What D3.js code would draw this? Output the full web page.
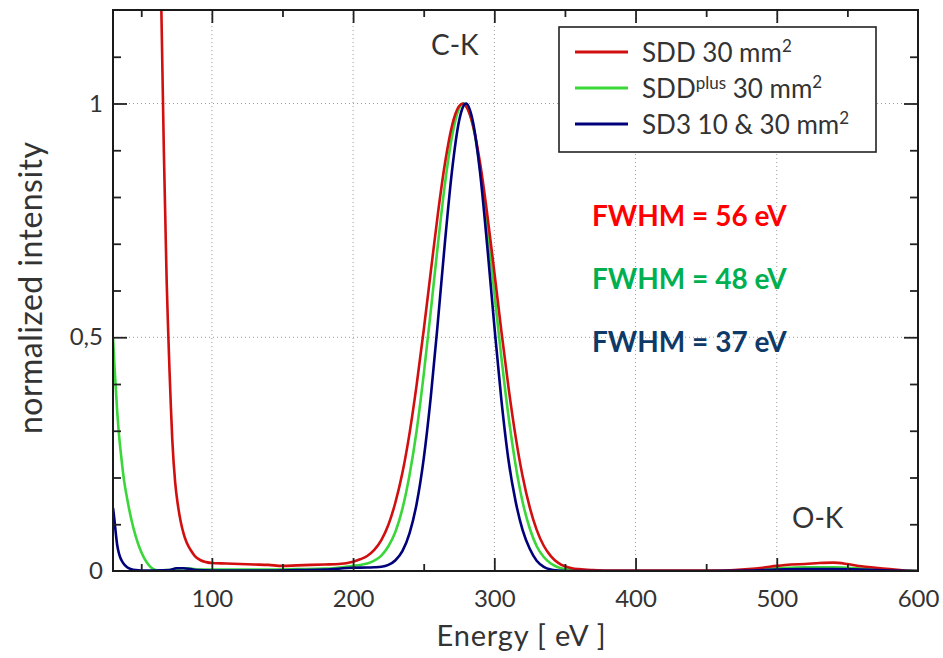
<!DOCTYPE html>
<html>
<head>
<meta charset="utf-8">
<script src="https://cdn.jsdelivr.net/npm/d3@7/dist/d3.min.js"></script>
<style>
  html, body { margin: 0; padding: 0; background: #fff; }
  svg { display: block; }
  text { font-family: Lato, "Open Sans", sans-serif; }
</style>
</head>
<body>
<svg id="chart" width="943" height="658"></svg>
<script>
// ---------------- data ----------------
const redE = [63,64,65,66,67,68,69,70,71,72,74,76,78,80,82,85,88,92,96,100,110,120,130,140,150,160,170,180,190,200,205,210,215,220,225,230,235,240,245,250,255,260,265,270,275,278,280,285,290,295,300,305,310,315,320,325,330,335,340,345,350,355,360,370,380,400,420,440,460,470,480,490,500,510,520,530,540,550,560,570,580,590,600];
const redI = [1.35,1.24,1.07,0.9,0.76,0.62,0.52,0.43,0.35,0.28,0.19,0.14,0.105,0.08,0.062,0.045,0.032,0.023,0.019,0.017,0.016,0.015,0.014,0.013,0.011,0.012,0.013,0.014,0.015,0.02,0.025,0.032,0.045,0.066,0.099,0.147,0.211,0.295,0.398,0.515,0.64,0.763,0.871,0.952,0.994,1.0,0.994,0.952,0.871,0.763,0.64,0.513,0.394,0.289,0.203,0.137,0.088,0.054,0.032,0.018,0.01,0.006,0.004,0.002,0.001,0.001,0.001,0.001,0.001,0.002,0.004,0.007,0.011,0.014,0.015,0.017,0.018,0.015,0.01,0.007,0.004,0.001,0];

const greenE = [30,31,32,33,34,36,38,40,43,46,49,52,55,58,62,70,75,80,85,90,100,120,140,160,180,200,205,210,215,220,225,230,235,240,245,250,255,260,265,270,275,278,280,285,290,295,300,305,310,315,320,325,330,335,340,345,350,355,360,380,400,450,480,490,500,510,520,530,540,550,560,570,580,590,600];
const greenI = [0.5,0.44,0.39,0.34,0.3,0.24,0.19,0.155,0.11,0.075,0.048,0.028,0.014,0.005,0.001,0.002,0.005,0.006,0.005,0.003,0.003,0.003,0.003,0.004,0.005,0.011,0.013,0.016,0.022,0.033,0.053,0.084,0.134,0.206,0.3,0.42,0.556,0.697,0.827,0.929,0.989,1.0,0.996,0.951,0.859,0.735,0.595,0.457,0.332,0.228,0.148,0.092,0.053,0.03,0.016,0.008,0.004,0.002,0.001,0,0,0,0.001,0.003,0.006,0.007,0.008,0.008,0.008,0.007,0.005,0.003,0.002,0.001,0];

const blueE = [30,31,32,33,34,35,37,40,43,46,50,60,70,75,80,85,90,100,120,140,160,180,200,210,215,220,225,230,235,240,245,250,255,260,265,270,275,278,280,285,290,295,300,305,310,315,320,325,330,335,340,345,350,400,450,480,500,520,540,560,580,600];
const blueI = [0.135,0.11,0.08,0.055,0.04,0.03,0.018,0.008,0.004,0.002,0.001,0.001,0.002,0.006,0.006,0.004,0.002,0.001,0.001,0.001,0.002,0.003,0.007,0.0074,0.008,0.009,0.013,0.023,0.043,0.081,0.144,0.24,0.372,0.532,0.702,0.855,0.962,0.994,1.0,0.959,0.85,0.695,0.525,0.366,0.238,0.15,0.088,0.048,0.022,0.009,0.003,0.001,0,0,0,0.001,0.003,0.004,0.004,0.003,0.001,0];

const seriesNames = ["SDD 30 mm", "SDD", "SD3 10 & 30 mm"];
const fwhmLabels = ["FWHM = 56 eV", "FWHM = 48 eV", "FWHM = 37 eV"];
const xTickLabels = [100, 200, 300, 400, 500, 600];
const yTickLabels = [0, 0.5, 1];
const peakLabels = [{t: "C-K", e: 272, v: 1.103}, {t: "O-K", e: 529, v: 0.092}];

// ---------------- layout ----------------
const svg = d3.select("#chart");
const L = 113, R = 918, T = 10, B = 571;
const x = d3.scaleLinear().domain([30, 600]).range([L, R]);
const y = d3.scaleLinear().domain([0, 1.2]).range([B, T]);

const lineColors = ["#d10f0f", "#3ad63a", "#00007a"];
const fwhmColors = ["#ff0000", "#00b050", "#0f3a68"];
const textCol = "#333";

// grid (dotted)
const grid = svg.append("g").attr("stroke", "#9a9a9a").attr("stroke-width", 1).attr("stroke-dasharray", "1,3");
grid.selectAll("line.gx").data([100,200,300,400,500]).join("line")
  .attr("x1", d => x(d)).attr("x2", d => x(d)).attr("y1", T).attr("y2", B);
grid.selectAll("line.gy").data([0.5, 1]).join("line")
  .attr("x1", L).attr("x2", R).attr("y1", d => y(d)).attr("y2", d => y(d));

// curves
svg.append("clipPath").attr("id", "clip").append("rect")
  .attr("x", L).attr("y", T).attr("width", R - L).attr("height", B - T);
const line = d3.line().x(d => x(d[0])).y(d => y(d[1])).curve(d3.curveMonotoneX);
const series = [d3.zip(redE, redI), d3.zip(greenE, greenI), d3.zip(blueE, blueI)];
const drawOrder = [1, 0, 2];
svg.append("g").attr("clip-path", "url(#clip)")
  .selectAll("path").data(drawOrder).join("path")
  .attr("d", i => line(series[i]))
  .attr("fill", "none")
  .attr("stroke", i => lineColors[i])
  .attr("stroke-width", 2.6)
  .attr("stroke-linejoin", "round");

// axes ticks (inward, on all four sides)
function tickAxis(axisFn, scale, values, size, tr) {
  const g = svg.append("g").attr("transform", tr)
    .call(axisFn(scale).tickValues(values).tickSize(-size).tickFormat(""));
  g.select(".domain").remove();
  g.selectAll(".tick line").attr("stroke", "#222").attr("stroke-width", 1.8);
  return g;
}
const xMinor = [50,150,250,350,450,550];
const xMajor = [100,200,300,400,500];
const yMinor = [0.1,0.2,0.3,0.4,0.6,0.7,0.8,0.9,1.1];
const yMajor = [0.5, 1];
tickAxis(d3.axisBottom, x, xMajor, 13, `translate(0,${B})`);
tickAxis(d3.axisBottom, x, xMinor, 7, `translate(0,${B})`);
tickAxis(d3.axisTop, x, xMajor, 13, `translate(0,${T})`);
tickAxis(d3.axisTop, x, xMinor, 7, `translate(0,${T})`);
tickAxis(d3.axisLeft, y, yMajor, 14, `translate(${L},0)`);
tickAxis(d3.axisLeft, y, yMinor, 8, `translate(${L},0)`);
tickAxis(d3.axisRight, y, yMajor, 14, `translate(${R},0)`);
tickAxis(d3.axisRight, y, yMinor, 8, `translate(${R},0)`);

// tick labels
const xl = svg.append("g").attr("transform", `translate(0,${B})`)
  .call(d3.axisBottom(x).tickValues(xTickLabels).tickSize(0).tickPadding(19));
xl.select(".domain").remove();
xl.selectAll("text").attr("font-size", 24).attr("fill", textCol).attr("font-family", "Lato, sans-serif");

const yl = svg.append("g").attr("transform", `translate(${L},0)`)
  .call(d3.axisLeft(y).tickValues(yTickLabels).tickSize(0).tickPadding(10)
    .tickFormat(d => String(d).replace(".", ",")));
yl.select(".domain").remove();
yl.selectAll("text").attr("font-size", 24).attr("fill", textCol).attr("font-family", "Lato, sans-serif");

// frame
svg.append("rect").attr("x", L).attr("y", T).attr("width", R - L).attr("height", B - T)
  .attr("fill", "none").attr("stroke", "#1a1a1a").attr("stroke-width", 2);

// axis titles
svg.append("text").attr("x", 521).attr("y", 646).attr("text-anchor", "middle")
  .attr("font-size", 29).attr("fill", textCol)
  .attr("textLength", 169).attr("lengthAdjust", "spacing").text("Energy [ eV ]");
svg.append("text").attr("transform", "translate(42,288) rotate(-90)").attr("text-anchor", "middle")
  .attr("font-size", 32).attr("fill", textCol)
  .attr("textLength", 292).attr("lengthAdjust", "spacing").text("normalized intensity");

// peak labels
svg.selectAll("text.pk").data(peakLabels).join("text")
  .attr("x", d => x(d.e)).attr("y", d => y(d.v)).attr("text-anchor", "middle")
  .attr("font-size", 28).attr("fill", textCol).text(d => d.t);

// FWHM labels
svg.selectAll("text.fw").data(fwhmLabels).join("text")
  .attr("x", 592).attr("y", (d, i) => 226 + i * 63)
  .attr("font-size", 28).attr("font-weight", "bold")
  .attr("fill", (d, i) => fwhmColors[i]).text(d => d);

// legend
const lg = svg.append("g");
lg.append("rect").attr("x", 559).attr("y", 27).attr("width", 317).attr("height", 125)
  .attr("fill", "#fff").attr("stroke", "#222").attr("stroke-width", 1.6);
[0, 1, 2].forEach(i => {
  const yy = 52 + i * 36;
  lg.append("line").attr("x1", 575).attr("x2", 628).attr("y1", yy).attr("y2", yy)
    .attr("stroke", lineColors[i]).attr("stroke-width", 3);
  const t = lg.append("text").attr("x", 642).attr("y", yy + 10).attr("font-size", 26).attr("fill", textCol);
  if (i === 1) {
    t.append("tspan").text(seriesNames[1]);
    t.append("tspan").attr("font-size", 17).attr("dy", -9).text("plus");
    t.append("tspan").attr("dy", 9).text(" 30 mm");
  } else {
    t.append("tspan").text(seriesNames[i]);
  }
  t.append("tspan").attr("font-size", 17).attr("dy", -10).text("2");
});
</script>
</body>
</html>
